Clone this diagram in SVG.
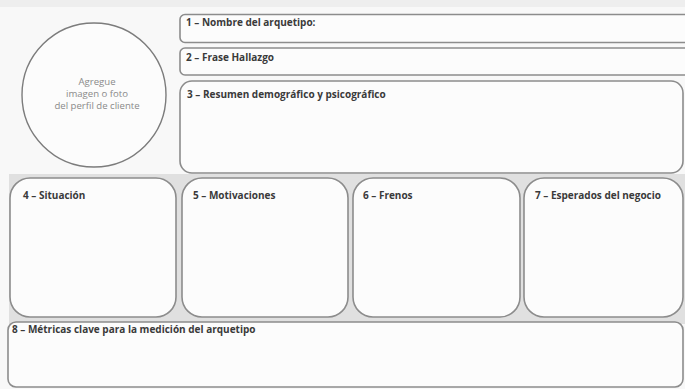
<svg xmlns="http://www.w3.org/2000/svg" width="685" height="389" viewBox="0 0 685 389">
  <style>
    .box { fill: #fcfcfc; stroke: #8c8c8c; stroke-width: 1.6; }
    .lbl { font-family: "Open Sans", "Liberation Sans", sans-serif; font-weight: bold; font-size: 10px; fill: #3a3a3a; }
    .hint { font-family: "Open Sans", "Liberation Sans", sans-serif; font-size: 9.6px; fill: #8a8a8a; text-anchor: middle; }
  </style>
  <!-- page -->
  <rect x="0" y="0" width="685" height="389" fill="#f8f8f8"/>
  <rect x="0" y="0" width="685" height="7" fill="#eeeeee"/>
  <!-- gray band behind the lower cards -->
  <rect x="9" y="174" width="676" height="150" fill="#e0e0e0"/>

  <!-- photo placeholder -->
  <g id="photo">
    <circle cx="94" cy="95" r="72" fill="#fcfcfc" stroke="#7c7c7c" stroke-width="1.4"/>
    <text class="hint" x="97" y="85">Agregue</text>
    <text class="hint" x="97" y="97">imagen o foto</text>
    <text class="hint" x="97" y="109">del perfil de cliente</text>
  </g>

  <g id="n1">
    <rect class="box" x="180" y="14.5" width="510" height="28" rx="5"/>
    <text class="lbl" x="186" y="26">1 – Nombre del arquetipo:</text>
  </g>
  <g id="n2">
    <rect class="box" x="180" y="48" width="510" height="27" rx="5"/>
    <text class="lbl" x="186" y="61">2 – Frase Hallazgo</text>
  </g>
  <g id="n3">
    <rect class="box" x="180" y="81" width="503" height="92" rx="12"/>
    <text class="lbl" x="187" y="98">3 – Resumen demográfico y psicográfico</text>
  </g>

  <g id="n4">
    <rect class="box" x="10" y="178" width="166" height="139" rx="20"/>
    <text class="lbl" x="23" y="199">4 – Situación</text>
  </g>
  <g id="n5">
    <rect class="box" x="182" y="178" width="166" height="139" rx="20"/>
    <text class="lbl" x="193" y="199">5 – Motivaciones</text>
  </g>
  <g id="n6">
    <rect class="box" x="353" y="178" width="167" height="139" rx="20"/>
    <text class="lbl" x="363" y="199">6 – Frenos</text>
  </g>
  <g id="n7">
    <rect class="box" x="524" y="178" width="159" height="139" rx="20"/>
    <text class="lbl" x="535" y="199">7 – Esperados del negocio</text>
  </g>

  <g id="n8">
    <rect class="box" x="8" y="322" width="675" height="65" rx="8"/>
    <text class="lbl" x="12" y="333">8 – Métricas clave para la medición del arquetipo</text>
  </g>

  <g id="connectors"></g>
</svg>
